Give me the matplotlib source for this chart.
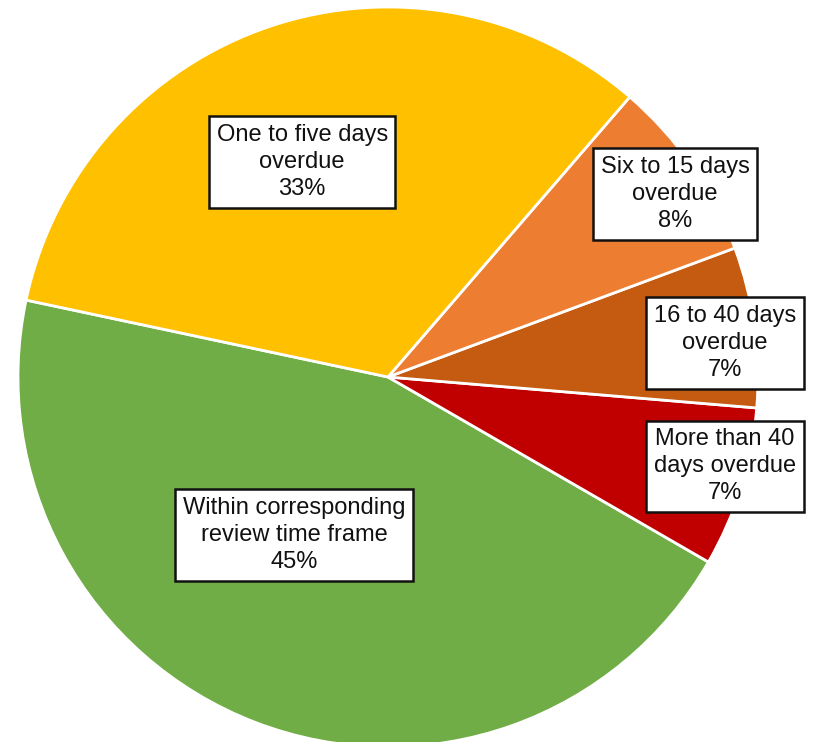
import matplotlib.pyplot as plt

# Data
categories = ["Within corresponding\nreview time frame", "More than 40\ndays overdue",
              "16 to 40 days\noverdue", "Six to 15 days\noverdue",
              "One to five days\noverdue"]
shares = [45, 7, 7, 8, 33]
colors = ["#70AD47", "#C00000", "#C55A11", "#ED7D31", "#FFC000"]

# label box centres (data coords, pie radius = 1)
label_pos = [(-0.254, -0.427), (0.911, -0.241), (0.911, 0.092),
             (0.776, 0.495), (-0.232, 0.581)]

W, H = 817, 742
fig = plt.figure(figsize=(W / 100, H / 100), dpi=100)
cx, cy, r = 388, 377, 370
ax = fig.add_axes([(cx - r) / W, (H - cy - r) / H, 2 * r / W, 2 * r / H])
ax.pie(shares, colors=colors, startangle=168, counterclock=True, radius=1,
       wedgeprops=dict(edgecolor="white", linewidth=2))
ax.set_xlim(-1, 1)
ax.set_ylim(-1, 1)
ax.set_aspect("equal")
ax.axis("off")

for cat, val, (x, y) in zip(categories, shares, label_pos):
    ax.text(x, y, f"{cat}\n{val}%", ha="center", va="center", fontsize=17,
            color="#111111", linespacing=1.3, family="Liberation Sans",
            bbox=dict(boxstyle="square,pad=0.32", facecolor="white",
                      edgecolor="#111111", linewidth=1.8),
            clip_on=False)

fig.savefig("out.png", dpi=100)
